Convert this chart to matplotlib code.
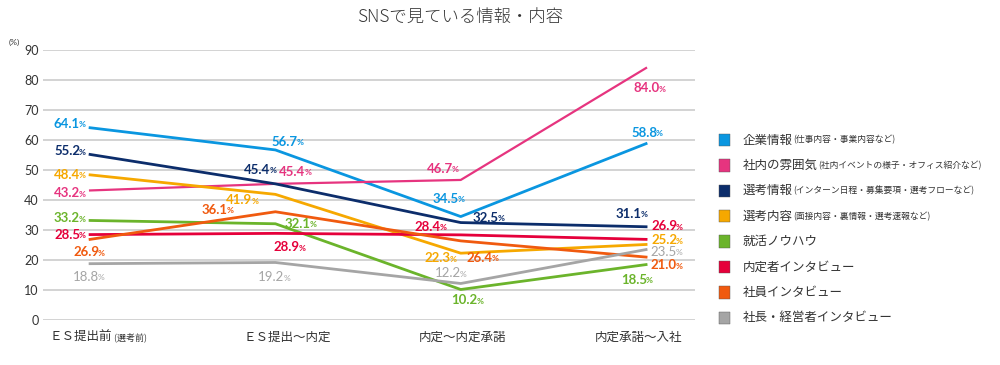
import matplotlib
matplotlib.use('Agg')
import matplotlib.pyplot as plt
from matplotlib.patches import Rectangle

plt.rcParams['font.family'] = ['Lato', 'Noto Sans CJK JP', 'DejaVu Sans']

# データ
stages = ['ＥＳ提出前', 'ＥＳ提出～内定', '内定～内定承諾', '内定承諾～入社']
stage_notes = ['(選考前)', '', '', '']

series_names = ['企業情報', '社内の雰囲気', '選考情報', '選考内容', '就活ノウハウ',
                '内定者インタビュー', '社員インタビュー', '社長・経営者インタビュー']
series_notes = ['(仕事内容・事業内容など)', '(社内イベントの様子・オフィス紹介など)',
                '(インターン日程・募集要項・選考フローなど)', '(面接内容・裏情報・選考速報など)',
                '', '', '', '']

company_info = [64.1, 56.7, 34.5, 58.8]
atmosphere = [43.2, 45.4, 46.7, 84.0]
selection_info = [55.2, 45.4, 32.5, 31.1]
selection_content = [48.4, 41.9, 22.3, 25.2]
know_how = [33.2, 32.1, 10.2, 18.5]
offer_interview = [28.5, 28.9, 28.4, 26.9]
staff_interview = [26.9, 36.1, 26.4, 21.0]
ceo_interview = [18.8, 19.2, 12.2, 23.5]

values = [company_info, atmosphere, selection_info, selection_content,
          know_how, offer_interview, staff_interview, ceo_interview]

colors = ['#0a96e0', '#e6347f', '#0c2d6b', '#f6a800',
          '#6bb42b', '#e5003a', '#f05a0f', '#a5a5a5']
widths = [2.0, 1.6, 2.0, 2.0, 2.0, 2.0, 2.0, 2.0]

# ラベル位置（点からのピクセルオフセット: 右, 上）
label_offsets = [
    [(-10, 4), (22, 8), (-2, 18), (11, 11)],
    [(-10, -3), (30, 12), (-8, 11), (14, -20)],
    [(-10, 3), (-5, 14), (38, 5), (-4, 13)],
    [(-10, 0), (-23, -6), (-10, -5), (31, 4)],
    [(-10, 2), (35, 0), (17, -11), (1, -15)],
    [(-10, 0), (24, -14), (-20, 8), (31, 13)],
    [(9, -13), (-48, 2), (32, -17), (31, -8)],
    [(9, -13), (9, -15), (0, 10), (31, -2)],
]

fig = plt.figure(figsize=(10, 3.65), dpi=100)
ax = fig.add_axes([0.043, 0.123, 0.652, 0.740])

x = list(range(len(stages)))
for vals, c, lw in zip(values, colors, widths):
    ax.plot(x, vals, color=c, lw=lw, zorder=3)

for vals, c, offs in zip(values, colors, label_offsets):
    weight = 'normal' if c == '#a5a5a5' else 'bold'
    for i, v in enumerate(vals):
        dx, dy = offs[i]
        ax.annotate(f'{v:.1f}', xy=(i, v), xytext=(dx, dy), textcoords='offset pixels',
                    ha='right', va='center', fontsize=9.5, color=c,
                    fontweight=weight, zorder=4)
        ax.annotate('%', xy=(i, v), xytext=(dx - 1, dy - 1), textcoords='offset pixels',
                    ha='left', va='center', fontsize=6, color=c,
                    fontweight=weight, zorder=4)

ax.set_xlim(-0.254, 3.264)
ax.set_ylim(0, 90)
ax.set_yticks(range(0, 91, 10))
ax.grid(axis='y', color='#cccccc', lw=1.2)
ax.set_axisbelow(True)
for s in ax.spines.values():
    s.set_visible(False)
ax.tick_params(axis='y', length=0, pad=3, labelsize=9, labelcolor='#333333')
ax.tick_params(axis='x', length=0)
ax.set_xticks([])
ax.text(-0.035, 1.015, '(%)', transform=ax.transAxes, ha='right', va='bottom',
        fontsize=6, color='#333333')

# 横軸ラベル
cjk = ['Noto Sans CJK JP', 'DejaVu Sans']
xlabel_offsets = [(-2, -17), (12, -17), (2, -17), (-8, -17)]
for i, (st, note) in enumerate(zip(stages, stage_notes)):
    dx, dy = xlabel_offsets[i]
    if note:
        ax.annotate(st, xy=(i, 0), xytext=(dx + 24, dy), textcoords='offset pixels',
                    ha='right', va='center', fontsize=9, color='#333333',
                    family=cjk, annotation_clip=False)
        ax.annotate(' ' + note, xy=(i, 0), xytext=(dx + 24, dy), textcoords='offset pixels',
                    ha='left', va='center', fontsize=6.5, color='#333333',
                    family=cjk, annotation_clip=False)
    else:
        ax.annotate(st, xy=(i, 0), xytext=(dx, dy), textcoords='offset pixels',
                    ha='center', va='center', fontsize=9, color='#333333',
                    family=cjk, annotation_clip=False)

# タイトル
fig.text(0.46, 0.955, 'SNSで見ている情報・内容', ha='center', va='center',
         fontsize=12.5, color='#333333', fontweight='light', family=cjk)

# 凡例（手描き）
leg_x = 0.719
leg_y0 = 1 - 140 / 365
leg_step = 25.4 / 365
for k, (name, note, c) in enumerate(zip(series_names, series_notes, colors)):
    y = leg_y0 - k * leg_step
    fig.patches.append(Rectangle((leg_x, y - 0.017), 0.011, 0.034,
                                 transform=fig.transFigure, facecolor=c,
                                 edgecolor='#555555', lw=0.3))
    t = fig.text(leg_x + 0.024, y, name, ha='left', va='center', fontsize=9,
                 color='#333333', family=cjk)
    if note:
        fig.canvas.draw()
        bb = t.get_window_extent()
        fig.text(bb.x1 / fig.bbox.width, y, note, ha='left', va='center', fontsize=6.3,
                 color='#333333', family=cjk)

fig.savefig('out.png', dpi=100)
